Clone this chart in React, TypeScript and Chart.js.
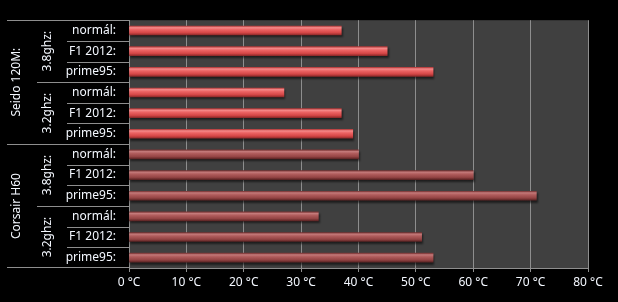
import React, { useEffect, useRef } from "react";
import { Chart, registerables } from "chart.js";

Chart.register(...registerables);

const leafLabels = ["normál:", "F1 2012:", "prime95:", "normál:", "F1 2012:", "prime95:", "normál:", "F1 2012:", "prime95:", "normál:", "F1 2012:", "prime95:"];
const subGroups = ["3.8ghz:", "3.2ghz:", "3.8ghz:", "3.2ghz:"];
const groups = ["Seido 120M:", "Corsair H60"];
const seidoValues = [37, 45, 53, 27, 37, 39];
const corsairValues = [40, 60, 71, 33, 51, 53];
const xTicks = [0, 10, 20, 30, 40, 50, 60, 70, 80];

const FONT = "'Noto Sans', sans-serif";
const LINE = "#8e8e8e";
const TEXT = "#f4f8ff";

export default function App() {
  const ref = useRef<HTMLCanvasElement>(null);
  useEffect(() => {
    if (!ref.current) return;
    document.body.style.margin = "0";
    const values = [...seidoValues, ...corsairValues];

    const makeGrad = (ctx: any) => {
      const chart = ctx.chart;
      const y = chart.scales?.y;
      const idx = ctx.dataIndex;
      const seido = idx < seidoValues.length;
      const fallback = seido ? "#e05050" : "#a05050";
      if (!y || idx === undefined) return fallback;
      const yc = y.getPixelForValue(idx);
      if (!isFinite(yc)) return fallback;
      const g = chart.ctx.createLinearGradient(0, yc - 4.5, 0, yc + 4.5);
      if (seido) {
        g.addColorStop(0, "#b23a3a");
        g.addColorStop(0.18, "#f58a8a");
        g.addColorStop(0.4, "#ec6464");
        g.addColorStop(0.75, "#d44646");
        g.addColorStop(1, "#8e2a2a");
      } else {
        g.addColorStop(0, "#7a3434");
        g.addColorStop(0.18, "#c47a7a");
        g.addColorStop(0.4, "#b05c5c");
        g.addColorStop(0.75, "#944444");
        g.addColorStop(1, "#5c2424");
      }
      return g;
    };

    const framePlugin = {
      id: "frame",
      beforeDraw(chart: any) {
        const { ctx, chartArea } = chart;
        ctx.save();
        ctx.fillStyle = "#000";
        ctx.fillRect(0, 0, chart.width, chart.height);
        ctx.fillStyle = "#404040";
        ctx.fillRect(chartArea.left, chartArea.top, chartArea.right - chartArea.left, chartArea.bottom - chartArea.top);
        ctx.restore();
      },
      beforeDatasetsDraw(chart: any) {
        const ctx = chart.ctx;
        ctx.save();
        ctx.shadowColor = "rgba(0,0,0,0.55)";
        ctx.shadowOffsetX = 1;
        ctx.shadowOffsetY = 2;
        ctx.shadowBlur = 2;
      },
      afterDatasetsDraw(chart: any) {
        chart.ctx.restore();
      },
      afterDraw(chart: any) {
        const { ctx, chartArea } = chart;
        const y = chart.scales.y;
        const n = leafLabels.length;
        const boundary = (i: number) => {
          if (i <= 0) return chartArea.top;
          if (i >= n) return chartArea.bottom;
          return (y.getPixelForValue(i - 1) + y.getPixelForValue(i)) / 2;
        };
        const right = chartArea.left;
        ctx.save();
        ctx.strokeStyle = LINE;
        ctx.lineWidth = 1;
        const hline = (yy: number, x0: number) => {
          const py = Math.round(yy) + 0.5;
          ctx.beginPath();
          ctx.moveTo(x0, py);
          ctx.lineTo(right, py);
          ctx.stroke();
        };
        for (let i = 0; i <= n; i++) {
          const yy = boundary(i);
          let x0 = 67;
          if (i % 6 === 0) x0 = 7;
          else if (i % 3 === 0) x0 = 37;
          hline(yy - (i === n ? 1 : 0), x0);
        }
        ctx.fillStyle = TEXT;
        ctx.font = `12px ${FONT}`;
        ctx.textAlign = "center";
        ctx.textBaseline = "middle";
        const rot = (text: string, x: number, yy: number) => {
          ctx.save();
          ctx.translate(x, yy);
          ctx.rotate(-Math.PI / 2);
          ctx.fillText(text, 0, 0);
          ctx.restore();
        };
        groups.forEach((g, gi) => {
          rot(g, 17, (boundary(gi * 6) + boundary((gi + 1) * 6)) / 2);
        });
        subGroups.forEach((s, si) => {
          rot(s, 48, (boundary(si * 3) + boundary((si + 1) * 3)) / 2);
        });
        ctx.restore();
      },
    };

    const chart = new Chart(ref.current, {
      type: "bar",
      data: {
        labels: leafLabels,
        datasets: [
          {
            data: values,
            backgroundColor: makeGrad as any,
            barThickness: 9,
            borderWidth: 0,
          },
        ],
      },
      options: {
        indexAxis: "y",
        animation: false,
        responsive: true,
        maintainAspectRatio: false,
        layout: { padding: { top: 15, right: 30, left: 0, bottom: 0 } },
        plugins: { legend: { display: false }, tooltip: { enabled: false } },
        scales: {
          x: {
            min: 0,
            max: 80,
            afterBuildTicks(scale: any) {
              scale.ticks = xTicks.map((v) => ({ value: v }));
            },
            afterFit(scale: any) {
              scale.height = 34;
            },
            grid: { color: LINE, lineWidth: 1, tickLength: 4, drawTicks: true },
            border: { display: true, color: LINE },
            ticks: {
              color: TEXT,
              font: { family: FONT, size: 12 },
              padding: 3,
              maxRotation: 0,
              callback: (v: any) => `${v} °C`,
            },
          },
          y: {
            afterFit(scale: any) {
              scale.width = 129;
            },
            grid: { display: false, drawTicks: false },
            border: { display: true, color: LINE },
            ticks: {
              color: TEXT,
              font: { family: FONT, size: 12 },
              padding: 13,
            },
          },
        },
      },
      plugins: [framePlugin],
    });
    return () => chart.destroy();
  }, []);

  return (
    <div style={{ position: "fixed", left: 0, top: 0, width: 618, height: 302, background: "#000" }}>
      <canvas ref={ref} />
    </div>
  );
}
